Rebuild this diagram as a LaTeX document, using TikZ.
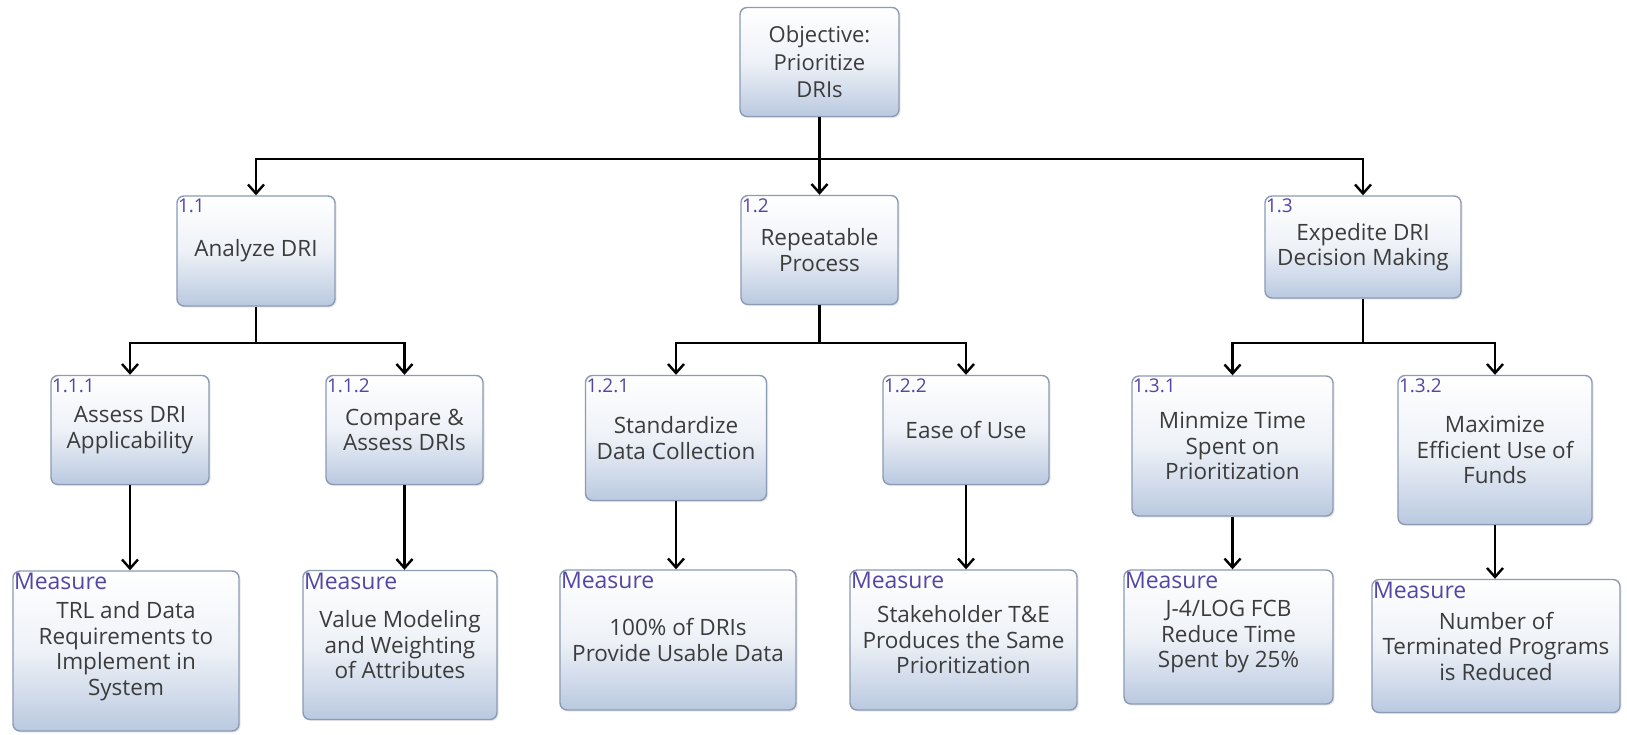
\documentclass[tikz,border=0pt]{standalone}
\usepackage{fontspec}
\setmainfont{Open Sans}
\usetikzlibrary{arrows.meta,shadows}

\definecolor{boxblue}{RGB}{186,201,224}
\definecolor{boxedge}{RGB}{140,155,180}
\definecolor{labpurple}{RGB}{85,70,165}
\definecolor{textgray}{RGB}{60,60,60}

\tikzset{
  goalbox/.style={
    draw=boxedge, line width=1.4pt, rounded corners=7pt,
    top color=white, bottom color=boxblue, middle color=boxblue!25!white,
    drop shadow={shadow xshift=1.5pt, shadow yshift=-1.5pt, opacity=0.18, fill=gray},
    align=center, inner sep=2pt, text=textgray,
    font=\fontsize{22.5pt}{25.5pt}\selectfont
  },
  numlab/.style={anchor=north west, inner xsep=1.5pt, inner ysep=3.5pt,
    text=labpurple, font=\fontsize{19pt}{22pt}\selectfont},
  measlab/.style={anchor=north west, inner xsep=1.5pt, inner ysep=3pt,
    text=labpurple, font=\fontsize{23pt}{26pt}\selectfont},
  link/.style={line width=2.4pt, draw=black},
  arr/.style={link, -{Straight Barb[length=9pt,width=16pt,line width=2.4pt]}}
}

\newcommand{\goal}[7]{% name, cx, cy, w, h, label, text
  \node[goalbox, minimum width=#4pt, minimum height=#5pt,
        label={[numlab]north west:#6}] (#1) at (#2,#3) {#7};
}
\newcommand{\meas}[6]{% name, cx, cy, w, h, text
  \node[goalbox, minimum width=#4pt, minimum height=#5pt,
        label={[measlab]north west:Measure}] (#1) at (#2,#3) {#6};
}

\begin{document}
\begin{tikzpicture}[x=1pt,y=-1pt]
  \useasboundingbox (0,0) rectangle (1627,734);
  \fill[white] (0,0) rectangle (1627,734);

  % objective
  \node[goalbox, minimum width=159pt, minimum height=109pt,
        font=\fontsize{22pt}{27.5pt}\selectfont] (root) at (819.5,62)
        {Objective:\\Prioritize\\DRIs};

  % first level goals
  \goal{n11}{256}{251}{158}{110}{1.1}{Analyze DRI}
  \goal{n12}{819.5}{250}{157}{109}{1.2}{Repeatable\\Process}
  \goal{n13}{1363}{247}{196}{102}{1.3}{Expedite DRI\\Decision Making}

  % second level goals
  \goal{n111}{130}{430}{158}{109}{1.1.1}{Assess DRI\\Applicability}
  \goal{n112}{404.5}{430}{157}{109}{1.1.2}{Compare \&\\Assess DRIs}
  \goal{n121}{676}{438}{181}{125}{1.2.1}{Standardize\\Data Collection}
  \goal{n122}{966}{430}{166}{109}{1.2.2}{Ease of Use}
  \goal{n131}{1232.5}{446}{201}{140}{1.3.1}{Minmize Time\\Spent on\\Prioritization}
  \goal{n132}{1495}{450}{194}{149}{1.3.2}{Maximize\\Efficient Use of\\Funds}

  % measures
  \meas{m111}{126}{651}{226}{160}{TRL and Data\\Requirements to\\Implement in\\System}
  \meas{m112}{400}{645}{194}{149}{Value Modeling\\and Weighting\\of Attributes}
  \meas{m121}{678}{640}{236}{140}{100\% of DRIs\\Provide Usable Data}
  \meas{m122}{963.5}{640}{227}{140}{Stakeholder T\&E\\Produces the Same\\Prioritization}
  \meas{m131}{1228.5}{637}{209}{134}{J-4/LOG FCB\\Reduce Time\\Spent by 25\%}
  \meas{m132}{1496}{646}{248}{133}{Number of\\Terminated Programs\\is Reduced}

  % bus levels
  \coordinate (bus0) at (0,159);
  \coordinate (bus1) at (0,343);

  % objective to first level
  \draw[link] (root.south) -- (root.south |- bus0);
  \draw[arr] (root.south |- bus0) -| (n11.north);
  \draw[arr] (root.south |- bus0) -- (n12.north);
  \draw[arr] (root.south |- bus0) -| (n13.north);

  % first level to second level
  \draw[link] (n11.south) -- (n11.south |- bus1);
  \draw[arr] (n11.south |- bus1) -| (n111.north);
  \draw[arr] (n11.south |- bus1) -| (n112.north);
  \draw[link] (n12.south) -- (n12.south |- bus1);
  \draw[arr] (n12.south |- bus1) -| (n121.north);
  \draw[arr] (n12.south |- bus1) -| (n122.north);
  \draw[link] (n13.south) -- (n13.south |- bus1);
  \draw[arr] (n13.south |- bus1) -| (n131.north);
  \draw[arr] (n13.south |- bus1) -| (n132.north);

  % goals to measures
  \draw[arr] (n111.south) -- (n111.south |- m111.north);
  \draw[arr] (n112.south) -- (n112.south |- m112.north);
  \draw[arr] (n121.south) -- (n121.south |- m121.north);
  \draw[arr] (n122.south) -- (n122.south |- m122.north);
  \draw[arr] (n131.south) -- (n131.south |- m131.north);
  \draw[arr] (n132.south) -- (n132.south |- m132.north);
\end{tikzpicture}
\end{document}
